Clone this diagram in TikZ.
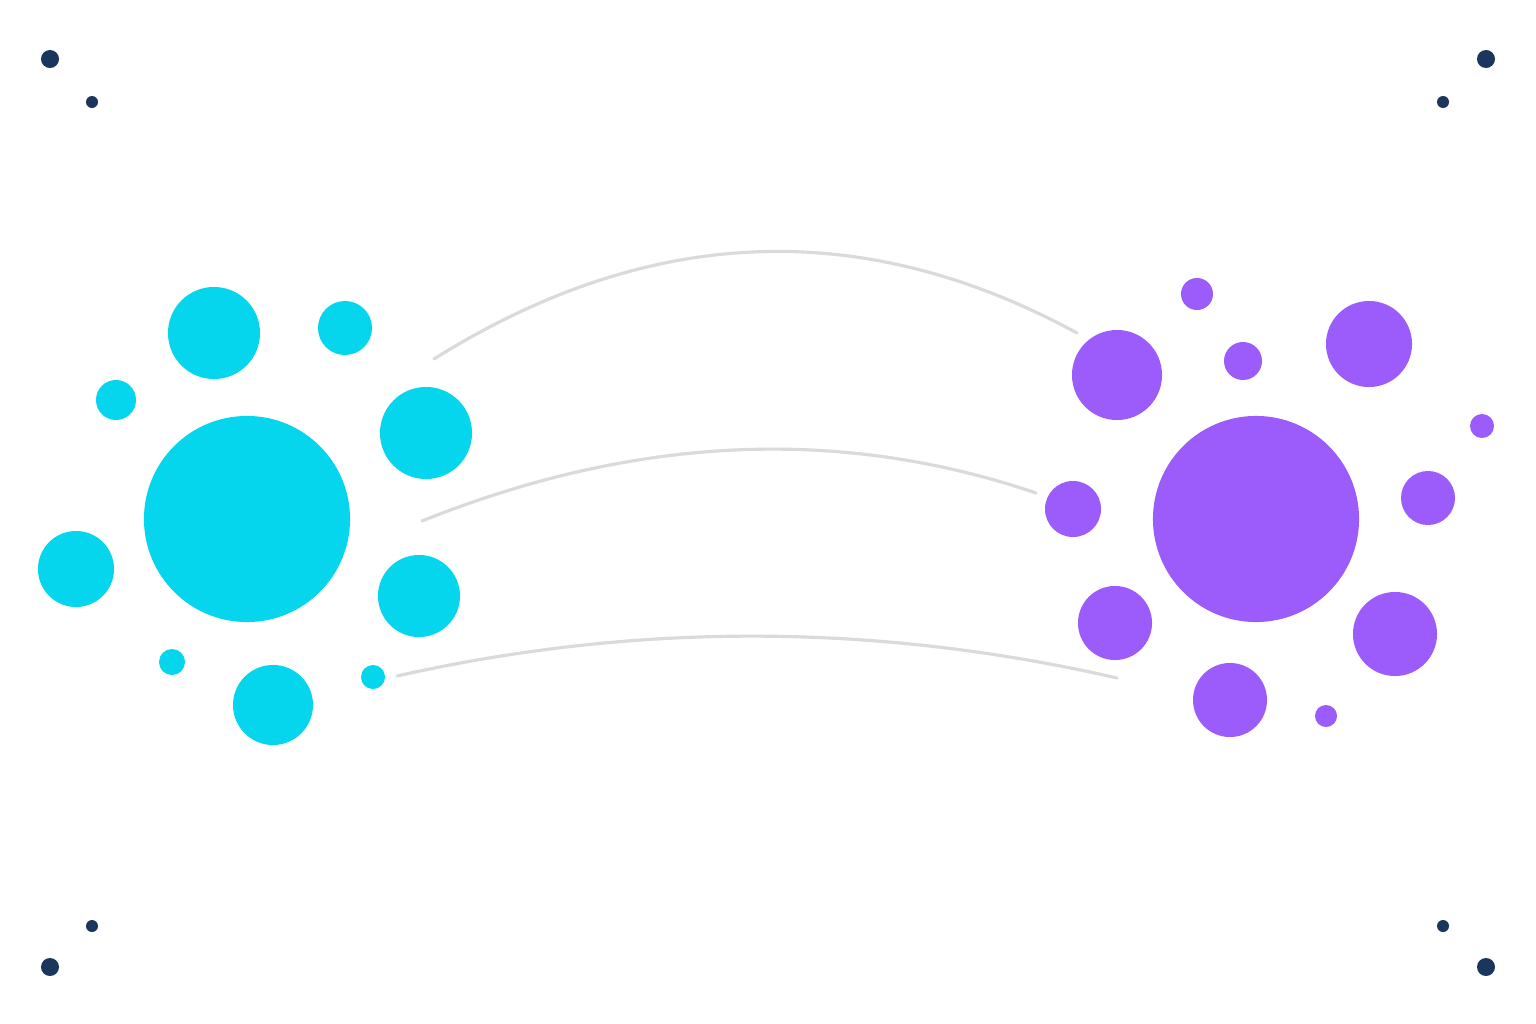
\documentclass[tikz,border=0pt]{standalone}
\usepackage{xcolor}
\usepackage{tikz}
\usetikzlibrary{positioning}
\definecolor{hubcyan}{RGB}{5,214,238}
\definecolor{hubviolet}{RGB}{155,92,251}
\definecolor{cornernavy}{RGB}{27,54,93}
\definecolor{linkgray}{RGB}{218,218,218}

\begin{document}
\begin{tikzpicture}[
    x=0.01cm, y=-0.01cm,
    cyanball/.style={circle, fill=hubcyan, inner sep=0pt},
    violetball/.style={circle, fill=hubviolet, inner sep=0pt},
    cornerdot/.style={circle, fill=cornernavy, inner sep=0pt},
    link/.style={draw=linkgray, line width=0.9pt, line cap=round},
]
\useasboundingbox[fill=white] (0,0) rectangle (1536,1024);

% === Corner dots ===
\node[cornerdot, minimum size=0.18cm] (tlA) at (50,59) {};
\node[cornerdot, minimum size=0.12cm] (tlB) at (92,102) {};
\node[cornerdot, minimum size=0.18cm] (trA) at (1486,59) {};
\node[cornerdot, minimum size=0.12cm] (trB) at (1443,102) {};
\node[cornerdot, minimum size=0.18cm] (blA) at (50,967) {};
\node[cornerdot, minimum size=0.12cm] (blB) at (92,926) {};
\node[cornerdot, minimum size=0.18cm] (brA) at (1486,967) {};
\node[cornerdot, minimum size=0.12cm] (brB) at (1443,926) {};

% === LEFT: cyan cluster ===
\node[cyanball, minimum size=2.06cm] (lhub) at (247,519) {};
\node[cyanball, minimum size=0.92cm] (l1) at (214,333) {};
\node[cyanball, minimum size=0.54cm] (l2) at (345,328) {};
\node[cyanball, minimum size=0.40cm] (l3) at (116,400) {};
\node[cyanball, minimum size=0.92cm] (l4) at (426,433) {};
\node[cyanball, minimum size=0.76cm] (l5) at (76,569) {};
\node[cyanball, minimum size=0.82cm] (l6) at (419,596) {};
\node[cyanball, minimum size=0.26cm] (l7) at (172,662) {};
\node[cyanball, minimum size=0.80cm] (l8) at (273,705) {};
\node[cyanball, minimum size=0.24cm] (l9) at (373,677) {};

% === RIGHT: violet cluster ===
\node[violetball, minimum size=2.06cm] (rhub) at (1256,519) {};
\node[violetball, minimum size=0.32cm] (r1) at (1197,294) {};
\node[violetball, minimum size=0.90cm] (r2) at (1117,375) {};
\node[violetball, minimum size=0.38cm] (r3) at (1243,361) {};
\node[violetball, minimum size=0.86cm] (r4) at (1369,344) {};
\node[violetball, minimum size=0.24cm] (r5) at (1482,426) {};
\node[violetball, minimum size=0.54cm] (r6) at (1428,498) {};
\node[violetball, minimum size=0.56cm] (r7) at (1073,509) {};
\node[violetball, minimum size=0.74cm] (r8) at (1115,623) {};
\node[violetball, minimum size=0.84cm] (r9) at (1395,634) {};
\node[violetball, minimum size=0.74cm] (r10) at (1230,700) {};
\node[violetball, minimum size=0.22cm] (r11) at (1326,716) {};

% === Links between clusters ===
\coordinate (topL) at (434,359);
\coordinate (topR) at (1077,333);
\coordinate (midL) at (422,521);
\coordinate (midR) at (1036,493);
\coordinate (lowL) at (397,676);
\coordinate (lowR) at (1117,678);

\draw[link] (topL) .. controls (648,225) and (862,216) .. (topR);
\draw[link] (midL) .. controls (634,436) and (839,426) .. (midR);
\draw[link] (lowL) .. controls (637,622) and (877,623) .. (lowR);

\end{tikzpicture}
\end{document}
